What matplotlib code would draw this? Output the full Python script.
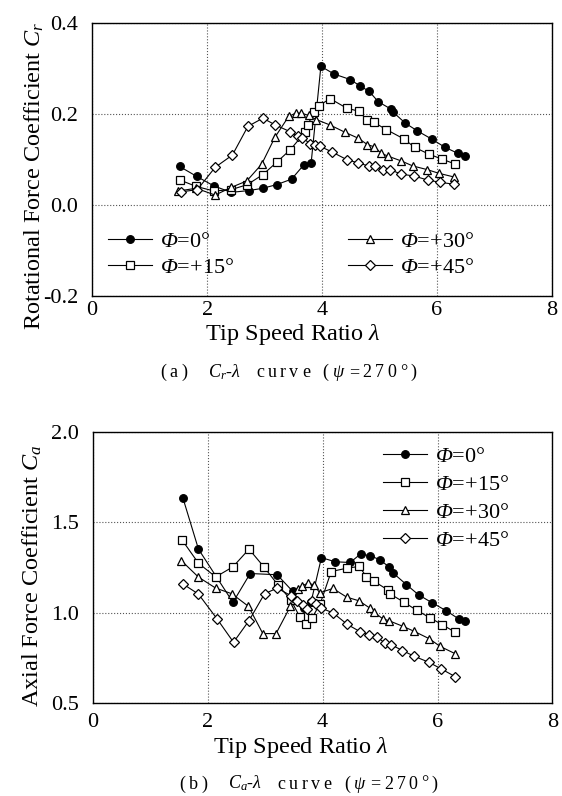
import matplotlib
matplotlib.use("Agg")
import matplotlib.pyplot as plt
from matplotlib.offsetbox import TextArea, HPacker, AnchoredOffsetbox, DrawingArea

plt.rcParams['font.family'] = ['Liberation Serif', 'Noto Sans CJK SC']
plt.rcParams['mathtext.fontset'] = 'custom'
plt.rcParams['mathtext.rm'] = 'Liberation Serif:italic'
plt.rcParams['mathtext.it'] = 'Liberation Serif:italic'
plt.rcParams['mathtext.bf'] = 'Liberation Serif:bold'

labels = [r'$\Phi$=0°', r'$\Phi$=+15°', r'$\Phi$=+30°', r'$\Phi$=+45°']

# (a) Cr - lambda
cr_x0 = [1.52, 1.82, 2.12, 2.42, 2.73, 2.97, 3.21, 3.47, 3.68, 3.81, 3.98, 4.21, 4.49, 4.66, 4.82, 4.98, 5.20, 5.24, 5.45, 5.66, 5.91, 6.14, 6.36, 6.49]
cr_y0 = [0.085, 0.063, 0.042, 0.028, 0.032, 0.037, 0.045, 0.057, 0.088, 0.092, 0.305, 0.288, 0.276, 0.262, 0.250, 0.227, 0.211, 0.204, 0.180, 0.163, 0.145, 0.127, 0.114, 0.108]
cr_x15 = [1.53, 1.81, 2.12, 2.42, 2.70, 2.97, 3.21, 3.45, 3.71, 3.75, 3.86, 3.94, 4.14, 4.43, 4.65, 4.78, 4.90, 5.12, 5.43, 5.61, 5.86, 6.09, 6.32]
cr_y15 = [0.055, 0.041, 0.031, 0.034, 0.045, 0.067, 0.094, 0.122, 0.161, 0.176, 0.204, 0.218, 0.234, 0.213, 0.206, 0.187, 0.182, 0.166, 0.145, 0.127, 0.112, 0.101, 0.090]
cr_x30 = [1.50, 1.81, 2.14, 2.42, 2.69, 2.95, 3.18, 3.42, 3.54, 3.64, 3.77, 3.90, 4.14, 4.40, 4.63, 4.79, 4.91, 5.03, 5.14, 5.38, 5.58, 5.83, 6.03, 6.29]
cr_y30 = [0.031, 0.037, 0.022, 0.039, 0.053, 0.090, 0.149, 0.195, 0.202, 0.202, 0.197, 0.188, 0.176, 0.160, 0.147, 0.133, 0.128, 0.114, 0.108, 0.097, 0.086, 0.078, 0.070, 0.062]
cr_x45 = [1.54, 1.83, 2.14, 2.44, 2.71, 2.97, 3.19, 3.45, 3.58, 3.66, 3.79, 3.87, 3.97, 4.17, 4.43, 4.62, 4.81, 4.93, 5.06, 5.18, 5.38, 5.60, 5.84, 6.06, 6.29]
cr_y45 = [0.029, 0.034, 0.083, 0.110, 0.173, 0.191, 0.176, 0.161, 0.151, 0.148, 0.135, 0.131, 0.129, 0.117, 0.100, 0.093, 0.086, 0.086, 0.078, 0.078, 0.068, 0.064, 0.055, 0.050, 0.046]

# (b) Ca - lambda
ca_x0 = [1.57, 1.84, 2.44, 2.74, 3.21, 3.48, 3.68, 3.80, 3.98, 4.22, 4.48, 4.66, 4.83, 5.00, 5.16, 5.23, 5.46, 5.67, 5.91, 6.15, 6.37, 6.48]
ca_y0 = [1.635, 1.352, 1.057, 1.217, 1.210, 1.118, 1.024, 1.060, 1.305, 1.282, 1.278, 1.325, 1.315, 1.293, 1.252, 1.219, 1.155, 1.099, 1.054, 1.011, 0.965, 0.956]
ca_x15 = [1.55, 1.84, 2.14, 2.44, 2.72, 2.98, 3.22, 3.45, 3.60, 3.72, 3.81, 3.96, 4.15, 4.43, 4.64, 4.76, 4.90, 5.13, 5.17, 5.42, 5.64, 5.87, 6.08, 6.31]
ca_y15 = [1.405, 1.274, 1.198, 1.254, 1.352, 1.253, 1.155, 1.070, 0.978, 0.937, 0.968, 1.050, 1.228, 1.247, 1.256, 1.200, 1.173, 1.127, 1.105, 1.057, 1.013, 0.971, 0.934, 0.891]
ca_x30 = [1.54, 1.84, 2.14, 2.42, 2.71, 2.96, 3.19, 3.44, 3.57, 3.65, 3.74, 3.85, 3.95, 4.18, 4.42, 4.63, 4.82, 4.90, 5.05, 5.15, 5.40, 5.59, 5.86, 6.04, 6.31]
ca_y30 = [1.289, 1.197, 1.136, 1.105, 1.035, 0.884, 0.884, 1.035, 1.130, 1.150, 1.162, 1.155, 1.110, 1.134, 1.086, 1.066, 1.026, 1.002, 0.965, 0.956, 0.924, 0.897, 0.855, 0.814, 0.772]
ca_x45 = [1.57, 1.84, 2.16, 2.45, 2.72, 2.99, 3.21, 3.45, 3.56, 3.66, 3.73, 3.81, 3.89, 3.97, 4.18, 4.43, 4.65, 4.81, 4.95, 5.08, 5.19, 5.39, 5.59, 5.85, 6.06, 6.31]
ca_y45 = [1.159, 1.103, 0.967, 0.836, 0.956, 1.105, 1.136, 1.094, 1.065, 1.040, 1.020, 1.062, 1.048, 1.026, 0.999, 0.935, 0.895, 0.878, 0.864, 0.833, 0.823, 0.790, 0.759, 0.725, 0.689, 0.645]

styles = [dict(marker='o', mfc='black', ms=5.5),
          dict(marker='s', mfc='white', ms=5.5),
          dict(marker='^', mfc='white', ms=6),
          dict(marker='D', mfc='white', ms=4.8)]

fig = plt.figure(figsize=(5.62, 7.96), dpi=100)
ax1 = fig.add_axes([0.164, 0.628, 0.818, 0.343])
ax2 = fig.add_axes([0.165, 0.117, 0.818, 0.340])


def draw(ax, xs, ys, xpad):
    lines = []
    for x, y, st, lab in zip(xs, ys, styles, labels):
        kw = dict(color='black', lw=0.8, mec='black', mew=0.9)
        kw.update(st)
        ln, = ax.plot(x, y, label=lab, **kw)
        lines.append(ln)
    ax.set_xlim(0, 8)
    ax.set_xticks([0, 2, 4, 6, 8])
    ax.grid(True, linestyle=':', color='#555555', lw=0.8)
    ax.tick_params(length=0, labelsize=16)
    ax.tick_params(axis='y', pad=10)
    ax.tick_params(axis='x', pad=xpad)
    for s in ax.spines.values():
        s.set_linewidth(1.0)
    ax.set_xlabel(r'Tip Speed Ratio $\lambda$', fontsize=17.5, va='top')
    return lines


l1 = draw(ax1, [cr_x0, cr_x15, cr_x30, cr_x45], [cr_y0, cr_y15, cr_y30, cr_y45], 3.5)
ax1.set_ylim(-0.2, 0.4)
ax1.set_yticks([-0.2, 0.0, 0.2, 0.4])
ax1.set_yticklabels(['-0.2', '0.0', '0.2', '0.4'])
ax1.set_ylabel(r'Rotational Force Coefficient $C_r$', fontsize=17.5)
ax1.yaxis.set_label_coords(-0.10, 0.44)
ax1.xaxis.set_label_coords(0.437, -0.095)

leg_kw = dict(frameon=False, fontsize=16, numpoints=1, handlelength=2.0,
              handletextpad=0.35, borderaxespad=0)
lg1 = ax1.legend(l1[:2], labels[:2], loc='lower left', bbox_to_anchor=(0.015, 0.035),
                 labelspacing=0.25, **leg_kw)
ax1.add_artist(lg1)
ax1.legend(l1[2:], labels[2:], loc='lower left', bbox_to_anchor=(0.537, 0.035),
           labelspacing=0.25, **leg_kw)

l2 = draw(ax2, [ca_x0, ca_x15, ca_x30, ca_x45], [ca_y0, ca_y15, ca_y30, ca_y45], 7)
ax2.set_ylim(0.5, 2.0)
ax2.set_yticks([0.5, 1.0, 1.5, 2.0])
ax2.set_yticklabels(['0.5', '1.0', '1.5', '2.0'])
ax2.set_ylabel(r'Axial Force Coefficient $C_a$', fontsize=17.5)
ax2.yaxis.set_label_coords(-0.105, 0.47)
ax2.xaxis.set_label_coords(0.452, -0.12)
ax2.legend(l2, labels, loc='upper left', bbox_to_anchor=(0.611, 0.98),
           labelspacing=0.33, **leg_kw)


def caption(tokens, x, y):
    kids = []
    for t in tokens:
        if isinstance(t, (int, float)):
            kids.append(DrawingArea(t, 1))
        else:
            kids.append(TextArea(t, textprops=dict(fontsize=13)))
    pack = HPacker(children=kids, align='baseline', pad=0, sep=2.5)
    ab = AnchoredOffsetbox(loc='center', child=pack, bbox_to_anchor=(x, y),
                           bbox_transform=fig.transFigure, frameon=False, pad=0, borderpad=0)
    fig.add_artist(ab)


tail = ['c', 'u', 'r', 'v', 'e', 4, '(', r'$\psi$', '=', '2', '7', '0', '°', ')']
caption(['(', 'a', ')', 10, r'$C_r$-$\lambda$', 6] + tail, 0.513, 0.532)
caption(['(', 'b', ')', 10, r'$C_a$-$\lambda$', 6] + tail, 0.549, 0.015)

fig.savefig('out.png', dpi=100, facecolor='white')
